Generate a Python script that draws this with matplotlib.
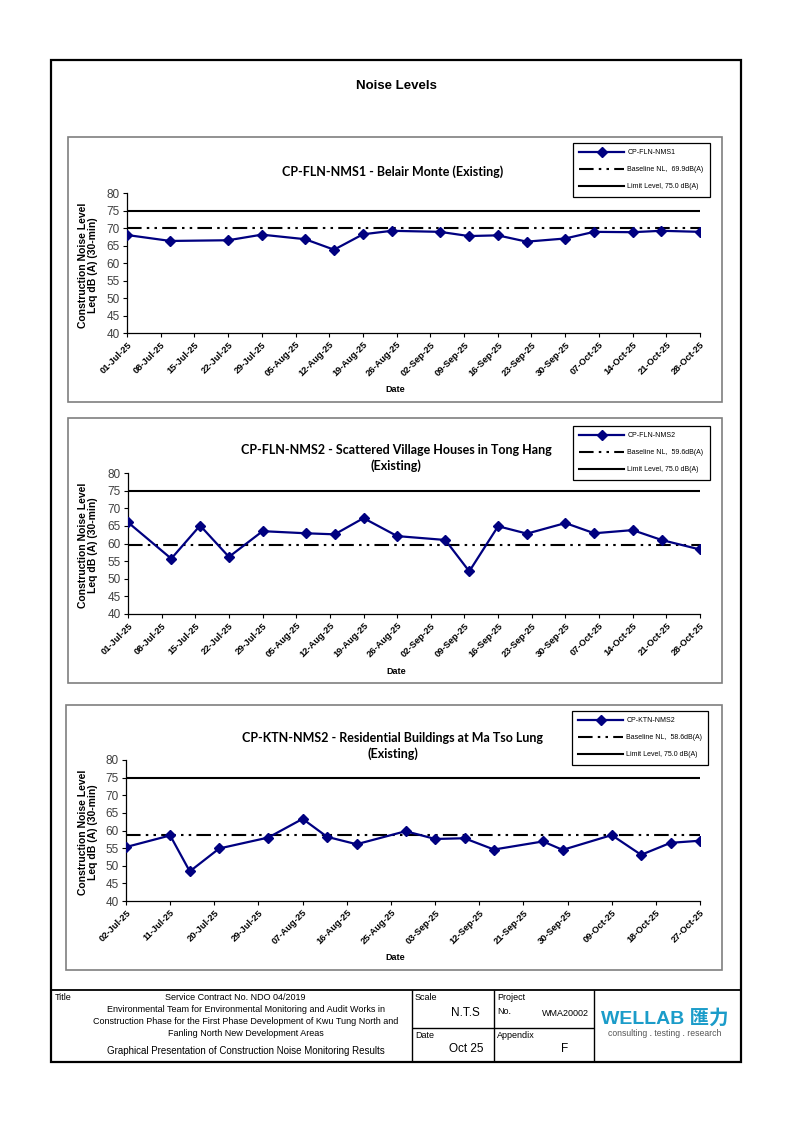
import pandas as pd
import matplotlib
matplotlib.use("Agg")
import matplotlib.pyplot as plt
import matplotlib.dates as mdates
from matplotlib.patches import Rectangle

# ---- data ----
nms1_dates = ["2025-07-01", "2025-07-10", "2025-07-22", "2025-07-29", "2025-08-07", "2025-08-13",
              "2025-08-19", "2025-08-25", "2025-09-04", "2025-09-10", "2025-09-16", "2025-09-22",
              "2025-09-30", "2025-10-06", "2025-10-14", "2025-10-20", "2025-10-28"]
nms1_values = [68.0, 66.3, 66.5, 68.1, 66.8, 63.8, 68.2, 69.2, 68.9, 67.7, 67.9, 66.1,
               67.0, 68.9, 68.8, 69.2, 68.9]

nms2_dates = ["2025-07-01", "2025-07-10", "2025-07-16", "2025-07-22", "2025-07-29", "2025-08-07",
              "2025-08-13", "2025-08-19", "2025-08-26", "2025-09-05", "2025-09-10", "2025-09-16",
              "2025-09-22", "2025-09-30", "2025-10-06", "2025-10-14", "2025-10-20", "2025-10-28"]
nms2_values = [66.0, 55.7, 65.1, 56.2, 63.5, 62.9, 62.6, 67.2, 62.1, 61.0, 52.1, 64.9,
               62.8, 65.8, 62.9, 63.8, 61.0, 58.3]

ktn2_dates = ["2025-07-02", "2025-07-11", "2025-07-15", "2025-07-21", "2025-07-31", "2025-08-07",
              "2025-08-12", "2025-08-18", "2025-08-28", "2025-09-03", "2025-09-09", "2025-09-15",
              "2025-09-25", "2025-09-29", "2025-10-09", "2025-10-15", "2025-10-21", "2025-10-27"]
ktn2_values = [55.3, 58.6, 48.4, 54.9, 58.0, 63.3, 58.2, 56.1, 59.8, 57.6, 57.8, 54.6,
               56.9, 54.5, 58.7, 53.1, 56.5, 57.1]

station_names = ["CP-FLN-NMS1", "CP-FLN-NMS2", "CP-KTN-NMS2"]
chart_titles = ["CP-FLN-NMS1 - Belair Monte (Existing)",
                "CP-FLN-NMS2 - Scattered Village Houses in Tong Hang\n(Existing)",
                "CP-KTN-NMS2 - Residential Buildings at Ma Tso Lung\n(Existing)"]
baselines = [69.9, 59.6, 58.6]
limit_level = 75.0
axis_start = ["2025-07-01", "2025-07-01", "2025-07-02"]
axis_end = ["2025-10-28", "2025-10-28", "2025-10-27"]
tick_step = ["7D", "7D", "9D"]

W, H = 794, 1123
NAVY = "#000080"
ARIAL = "Liberation Sans"
CALIBRI = "Lato"

fig = plt.figure(figsize=(W / 100, H / 100), dpi=100)

# background axes in pixel coordinates (y down) for frames and page text
bg = fig.add_axes([0, 0, 1, 1])
bg.set_xlim(0, W)
bg.set_ylim(H, 0)
bg.axis("off")


def rect(x0, y0, x1, y1):
    return [x0 / W, 1 - y1 / H, (x1 - x0) / W, (y1 - y0) / H]


def hline(y, x0, x1, lw=1.0):
    bg.plot([x0, x1], [y, y], color="black", lw=lw, solid_capstyle="butt")


def vline(x, y0, y1, lw=1.0):
    bg.plot([x, x], [y0, y1], color="black", lw=lw, solid_capstyle="butt")


# outer page frame
bg.add_patch(Rectangle((51, 60), 690, 1002, fill=False, ec="black", lw=1.6))
bg.text(396, 86, "Noise Levels", ha="center", va="center", fontsize=9.5,
        fontweight="bold", family=ARIAL)

panels = [(68, 137, 722, 402), (68, 418, 722, 683), (66, 705, 722, 970)]
plot_boxes = [(127, 193, 700, 333), (128, 473, 700, 614), (126, 760, 700, 901)]
legend_corners = [(573, 143), (573, 426), (572, 711)]
title_y = [172, 458, 746]
title_x = [393, 396, 393]

for i in range(3):
    px0, py0, px1, py1 = panels[i]
    bg.add_patch(Rectangle((px0, py0), px1 - px0, py1 - py0, fill=False,
                           ec="#7f7f7f", lw=1.2))

    x0, y0, x1, y1 = plot_boxes[i]
    ax = fig.add_axes(rect(x0, y0, x1, y1))
    dates = pd.to_datetime([nms1_dates, nms2_dates, ktn2_dates][i])
    vals = [nms1_values, nms2_values, ktn2_values][i]

    ax.plot(dates, vals, color=NAVY, lw=1.6, marker="D", ms=4.8,
            label=station_names[i], zorder=3)
    ax.axhline(baselines[i], color="black", lw=1.5,
               dashes=(7, 2.5, 1.2, 2.5, 1.2, 2.5),
               label="Baseline NL,  %.1fdB(A)" % baselines[i])
    ax.axhline(limit_level, color="black", lw=1.5,
               label="Limit Level, %.1f dB(A)" % limit_level)

    start, end = pd.Timestamp(axis_start[i]), pd.Timestamp(axis_end[i])
    ax.set_xlim(start, end)
    ax.set_ylim(40, 80)
    ax.set_yticks(range(40, 81, 5))
    ax.set_xticks(pd.date_range(start, end, freq=tick_step[i]))
    ax.xaxis.set_major_formatter(mdates.DateFormatter("%d-%b-%y"))
    for lbl in ax.get_xticklabels():
        lbl.set_rotation(45)
        lbl.set_ha("right")
        lbl.set_rotation_mode("anchor")
        lbl.set_fontweight("bold")
        lbl.set_fontsize(6.7)
        lbl.set_family(ARIAL)
    for lbl in ax.get_yticklabels():
        lbl.set_fontsize(8.5)
        lbl.set_family(ARIAL)
        lbl.set_color("#404040")
    ax.tick_params(direction="out", length=3, width=0.8, pad=2)
    ax.spines["top"].set_visible(False)
    ax.spines["right"].set_visible(False)
    ax.spines["left"].set_linewidth(0.9)
    ax.spines["bottom"].set_linewidth(0.9)
    ax.patch.set_alpha(0)

    lx, ly = legend_corners[i]
    leg = ax.legend(loc="upper left", bbox_to_anchor=(lx / W, 1 - ly / H),
                    bbox_transform=fig.transFigure, prop={"family": ARIAL, "size": 5},
                    frameon=True, fancybox=False, edgecolor="black", framealpha=1,
                    handlelength=6.5, handletextpad=0.4, labelspacing=1.45,
                    borderpad=0.9, borderaxespad=0)
    leg.get_frame().set_linewidth(0.9)
    leg.set_zorder(10)

    bg.text(title_x[i], title_y[i], chart_titles[i], ha="center", va="center",
            fontsize=9, fontweight="bold", family=CALIBRI, linespacing=1.3)
    bg.text(88, (y0 + y1) / 2 + 2, "Construction Noise Level\nLeq dB (A) (30-min)",
            rotation=90, ha="center", va="center", fontsize=7.5, fontweight="bold",
            family=ARIAL, linespacing=1.1)
    bg.text((x0 + x1) / 2 - 18, y1 + 57, "Date", ha="center", va="center",
            fontsize=6.5, fontweight="bold", family=ARIAL)

# ---- title block ----
hline(990, 51, 741, lw=1.3)
vline(412, 990, 1062)
vline(494, 990, 1062)
vline(594, 990, 1062)
hline(1028, 412, 594)

tb = dict(family=ARIAL, fontsize=6.5, va="center")
bg.text(55, 997, "Title", ha="left", **tb)
bg.text(235, 997, "Service Contract No. NDO 04/2019", ha="center", **tb)
bg.text(246, 1009, "Environmental Team for Environmental Monitoring and Audit Works in",
        ha="center", **tb)
bg.text(246, 1021, "Construction Phase for the First Phase Development of Kwu Tung North and",
        ha="center", **tb)
bg.text(246, 1033, "Fanling North New Development Areas", ha="center", **tb)
bg.text(246, 1051, "Graphical Presentation of Construction Noise Monitoring Results",
        ha="center", family=ARIAL, fontsize=7, va="center")
bg.text(415, 997, "Scale", ha="left", **tb)
bg.text(465, 1013, "N.T.S", ha="center", family=ARIAL, fontsize=8.5, va="center")
bg.text(415, 1036, "Date", ha="left", **tb)
bg.text(466, 1049, "Oct 25", ha="center", family=ARIAL, fontsize=8.5, va="center")
bg.text(497, 997, "Project", ha="left", **tb)
bg.text(497, 1012, "No.", ha="left", **tb)
bg.text(565, 1014, "WMA20002", ha="center", family=ARIAL, fontsize=6.5, va="center")
bg.text(497, 1036, "Appendix", ha="left", **tb)
bg.text(565, 1049, "F", ha="center", family=ARIAL, fontsize=8.5, va="center")

bg.text(665, 1018, "WELLAB 匯力", ha="center", va="center", fontsize=14,
        fontweight="bold", color="#1b9cc9", family=[ARIAL, "Noto Sans CJK TC"])
bg.text(665, 1033, "consulting . testing . research", ha="center", va="center",
        fontsize=6.2, color="#555555", family=ARIAL)

fig.savefig("out.png", dpi=100)
